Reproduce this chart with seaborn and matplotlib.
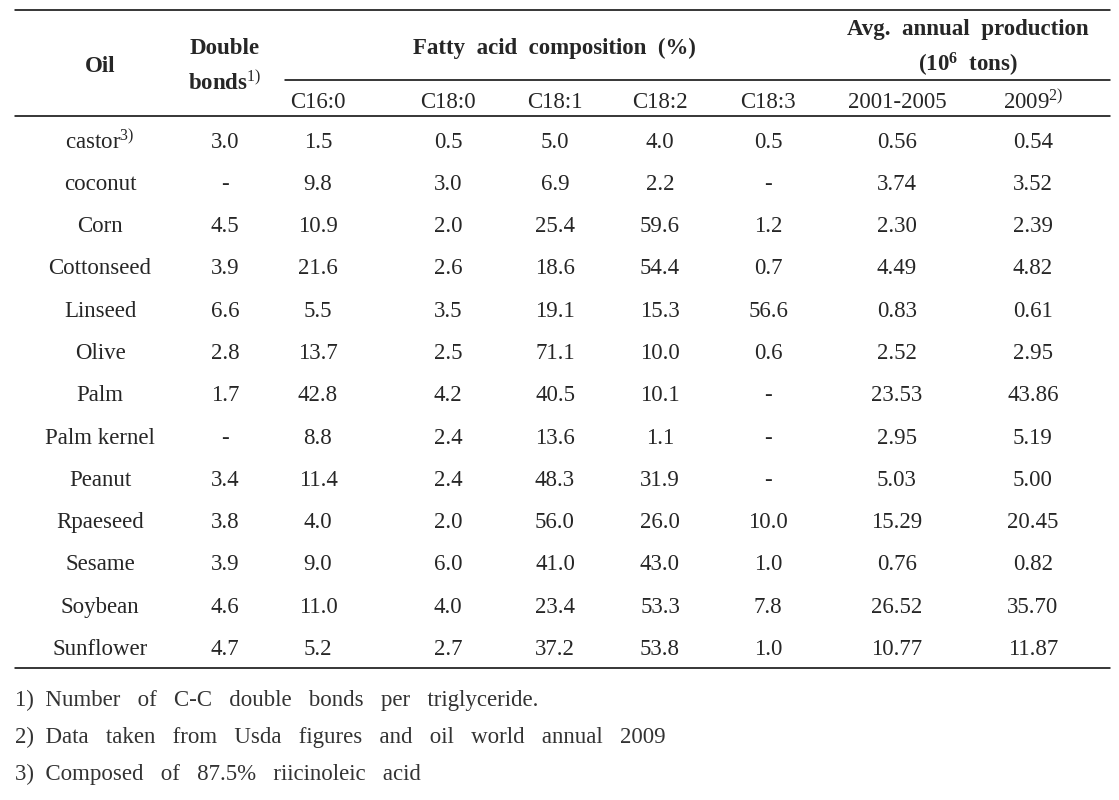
import numpy as np
import matplotlib
matplotlib.use("Agg")
import matplotlib.pyplot as plt
import pandas as pd
import seaborn as sns

# table data
oils = ['castor$^{3)}$', 'coconut', 'Corn', 'Cottonseed', 'Linseed', 'Olive', 'Palm',
        'Palm kernel', 'Peanut', 'Rpaeseed', 'Sesame', 'Soybean', 'Sunflower']
double_bonds = [3.0, np.nan, 4.5, 3.9, 6.6, 2.8, 1.7, np.nan, 3.4, 3.8, 3.9, 4.6, 4.7]
c16_0 = [1.5, 9.8, 10.9, 21.6, 5.5, 13.7, 42.8, 8.8, 11.4, 4.0, 9.0, 11.0, 5.2]
c18_0 = [0.5, 3.0, 2.0, 2.6, 3.5, 2.5, 4.2, 2.4, 2.4, 2.0, 6.0, 4.0, 2.7]
c18_1 = [5.0, 6.9, 25.4, 18.6, 19.1, 71.1, 40.5, 13.6, 48.3, 56.0, 41.0, 23.4, 37.2]
c18_2 = [4.0, 2.2, 59.6, 54.4, 15.3, 10.0, 10.1, 1.1, 31.9, 26.0, 43.0, 53.3, 53.8]
c18_3 = [0.5, np.nan, 1.2, 0.7, 56.6, 0.6, np.nan, np.nan, np.nan, 10.0, 1.0, 7.8, 1.0]
prod_0105 = [0.56, 3.74, 2.30, 4.49, 0.83, 2.52, 23.53, 2.95, 5.03, 15.29, 0.76, 26.52, 10.77]
prod_2009 = [0.54, 3.52, 2.39, 4.82, 0.61, 2.95, 43.86, 5.19, 5.00, 20.45, 0.82, 35.70, 11.87]

sub_heads = ['C16:0', 'C18:0', 'C18:1', 'C18:2', 'C18:3', '2001-2005', '2009$^{2)}$']
notes = ['1)  Number   of   C-C   double   bonds   per   triglyceride.',
         '2)  Data   taken   from   Usda   figures   and   oil   world   annual   2009',
         '3)  Composed   of   87.5%   riicinoleic   acid']

df = pd.DataFrame({'oil': oils, 'db': double_bonds, 'c16_0': c16_0, 'c18_0': c18_0,
                   'c18_1': c18_1, 'c18_2': c18_2, 'c18_3': c18_3,
                   'p1': prod_0105, 'p2': prod_2009})

sns.set_theme(style='white')
plt.rcParams['font.family'] = ['Liberation Serif', 'DejaVu Serif']
plt.rcParams['mathtext.fontset'] = 'custom'
plt.rcParams['mathtext.rm'] = 'Liberation Serif'
plt.rcParams['mathtext.it'] = 'Liberation Serif:italic'
plt.rcParams['mathtext.bf'] = 'Liberation Serif:bold'

fig = plt.figure(figsize=(11.19, 8.0), dpi=100)
ax = fig.add_axes([0, 0, 1, 1])
ax.set_xlim(0, 1119)
ax.set_ylim(800, 0)
ax.axis('off')

fs = 16.5
col_x = [100, 225, 318, 448, 555, 660, 768, 897, 1033]

# rules
ax.plot([15, 1110], [10, 10], color='black', lw=1.1)
ax.plot([285, 1110], [80, 80], color='black', lw=1.1)
ax.plot([15, 1110], [116, 116], color='black', lw=1.1)
ax.plot([15, 1110], [668, 668], color='black', lw=1.1)

# header
ax.text(col_x[0], 66, 'Oil', ha='center', va='center', fontsize=fs, fontweight='bold')
ax.text(col_x[1], 48, 'Double', ha='center', va='center', fontsize=fs, fontweight='bold')
ax.text(col_x[1], 83, r'bonds$^{1)}$', ha='center', va='center', fontsize=fs, fontweight='bold')
ax.text(554, 48, 'Fatty  acid  composition  (%)', ha='center', va='center',
        fontsize=fs, fontweight='bold')
ax.text(968, 30, 'Avg.  annual  production', ha='center', va='center',
        fontsize=fs, fontweight='bold')
ax.text(968, 65, r'(10$^{\mathbf{6}}$  tons)', ha='center', va='center',
        fontsize=fs, fontweight='bold')
for x, h in zip(col_x[2:], sub_heads):
    ax.text(x, 102, h, ha='center', va='center', fontsize=fs)

# body
def fmt(v, d):
    return '-' if pd.isna(v) else f'{v:.{d}f}'

y0, dy = 142, 42.3
for i, row in df.iterrows():
    y = y0 + i * dy
    cells = [row['oil'], fmt(row['db'], 1), fmt(row['c16_0'], 1), fmt(row['c18_0'], 1),
             fmt(row['c18_1'], 1), fmt(row['c18_2'], 1), fmt(row['c18_3'], 1),
             fmt(row['p1'], 2), fmt(row['p2'], 2)]
    for x, c in zip(col_x, cells):
        ax.text(x, y, c, ha='center', va='center', fontsize=fs)

# footnotes
for k, n in enumerate(notes):
    ax.text(15, 700 + k * 37, n, ha='left', va='center', fontsize=fs, color='#333333')

fig.savefig('out.png', dpi=100)
